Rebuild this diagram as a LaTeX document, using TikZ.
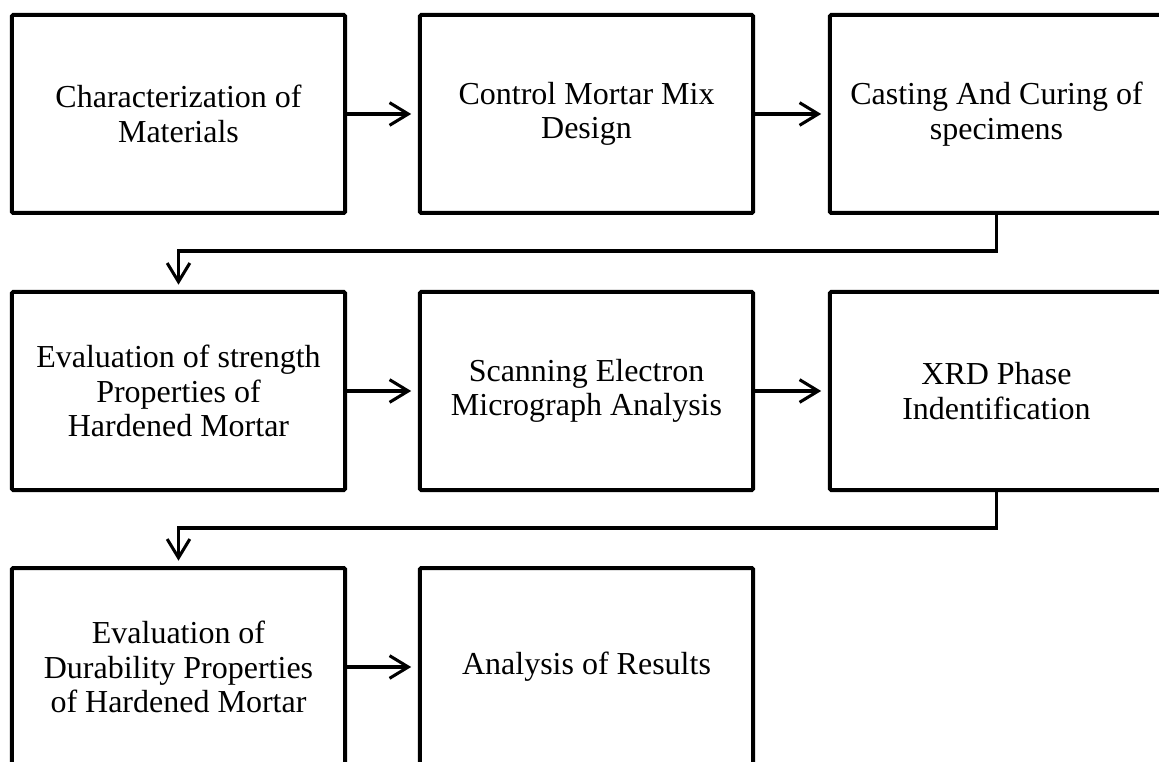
\documentclass[tikz,border=0pt]{standalone}
\usepackage{fontspec}
\setmainfont{Liberation Serif}
\usetikzlibrary{arrows.meta}
\begin{document}
\begin{tikzpicture}[x=0.75pt,y=-0.75pt,
  stepbox/.style={draw=black, line width=3pt, rectangle, rounded corners=1pt,
    minimum width=250pt, minimum height=148.5pt, align=center,
    font=\fontsize{24}{26}\selectfont, inner sep=0pt},
  flow/.style={draw=black, line width=2.3pt,
    -{Straight Barb[length=14pt,width=17pt,line width=2.3pt]}},
  link/.style={draw=black, line width=2.3pt}]
\clip (0,0) rectangle (1159,762);
\fill[white] (0,0) rectangle (1159,762);
\node[stepbox] (b1) at (178.5,114) {Characterization of\\Materials};
\node[stepbox] (b2) at (586.5,114) {Control Mortar Mix\\Design};
\node[stepbox] (b3) at (996.5,114) {Casting And Curing of\\specimens};
\node[stepbox] (b4) at (178.5,391) {Evaluation of strength\\Properties of\\Hardened Mortar};
\node[stepbox] (b5) at (586.5,391) {Scanning Electron\\Micrograph Analysis};
\node[stepbox] (b6) at (996.5,391) {XRD Phase\\Indentification};
\node[stepbox] (b7) at (178.5,667) {Evaluation of\\Durability Properties\\of Hardened Mortar};
\node[stepbox] (b8) at (586.5,667) {Analysis of Results};
\coordinate (c1) at (996.5,251);
\coordinate (c2) at (178.5,251);
\coordinate (c3) at (996.5,528);
\coordinate (c4) at (178.5,528);
\draw[flow] (b1.east) -- ([xshift=-5pt]b2.west);
\draw[flow] (b2.east) -- ([xshift=-5pt]b3.west);
\draw[flow] (b4.east) -- ([xshift=-5pt]b5.west);
\draw[flow] (b5.east) -- ([xshift=-5pt]b6.west);
\draw[flow] (b7.east) -- ([xshift=-5pt]b8.west);
\draw[flow] (b3.south) -- (c1) -- (c2) -- ([yshift=4pt]b4.north);
\draw[flow] (b6.south) -- (c3) -- (c4) -- ([yshift=4pt]b7.north);
\end{tikzpicture}
\end{document}
